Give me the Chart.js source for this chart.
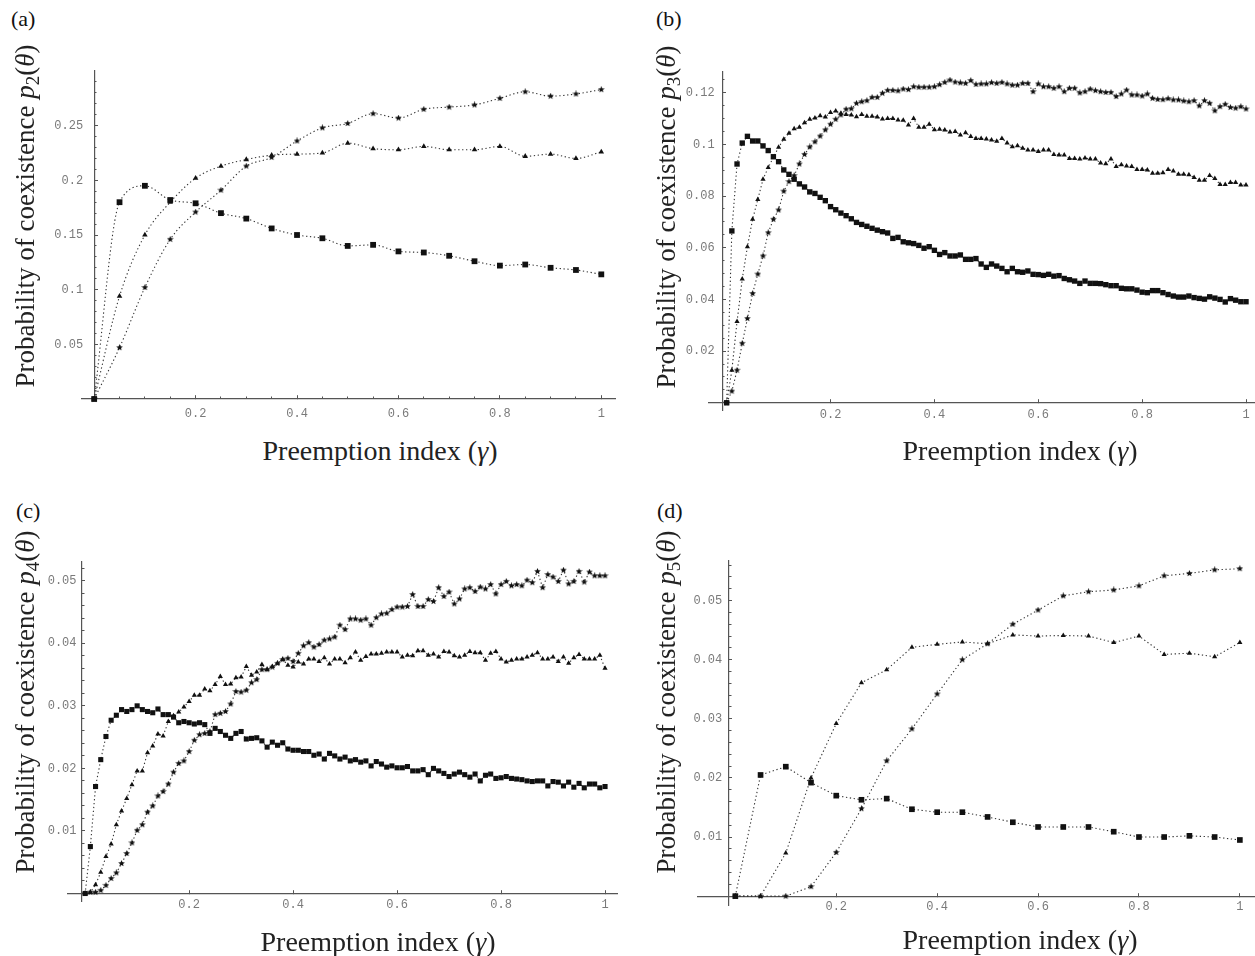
<!DOCTYPE html>
<html>
<head>
<meta charset="utf-8">
<script src="https://cdn.jsdelivr.net/npm/chart.js@4.4.0/dist/chart.umd.min.js"></script>
<style>
  html, body { margin: 0; padding: 0; background: #fff; }
  #page { position: relative; width: 1255px; height: 956px; overflow: hidden; background: #fff; }
  #page canvas { position: absolute; }
  .tag { position: absolute; font-family: 'Liberation Serif', serif; font-size: 22px; line-height: 1; color: #111; }
  .xt, .yt { position: absolute; font-family: 'Liberation Serif', serif; line-height: 1;
             white-space: nowrap; color: #222; }
  .xt { font-size: 28px; transform: translate(-50%, -50%); }
  .yt { font-size: 27px; transform: translate(-50%, -50%) rotate(-90deg); }
  .sb { font-size: 0.7em; position: relative; top: 0.28em; }
</style>
</head>
<body>
<div id="page">
  <canvas id="chartA"></canvas>
  <canvas id="chartB"></canvas>
  <canvas id="chartC"></canvas>
  <canvas id="chartD"></canvas>

  <div class="tag" style="left:11px;top:8px;">(a)</div>
  <div class="tag" style="left:656px;top:8px;">(b)</div>
  <div class="tag" style="left:16px;top:500px;">(c)</div>
  <div class="tag" style="left:657px;top:500px;">(d)</div>

  <div class="yt" style="left:25px;top:216px;">Probability of coexistence <i>p</i><span class="sb">2</span>(<i>θ</i>)</div>
  <div class="yt" style="left:666px;top:217px;">Probability of coexistence <i>p</i><span class="sb">3</span>(<i>θ</i>)</div>
  <div class="yt" style="left:25px;top:702px;">Probability of coexistence <i>p</i><span class="sb">4</span>(<i>θ</i>)</div>
  <div class="yt" style="left:666px;top:702px;">Probability of coexistence <i>p</i><span class="sb">5</span>(<i>θ</i>)</div>

  <div class="xt" style="left:380px;top:451px;">Preemption index (<i>γ</i>)</div>
  <div class="xt" style="left:1020px;top:451px;">Preemption index (<i>γ</i>)</div>
  <div class="xt" style="left:378px;top:942px;">Preemption index (<i>γ</i>)</div>
  <div class="xt" style="left:1020px;top:940px;">Preemption index (<i>γ</i>)</div>
</div>
<script>
// preemption index values
var gammaCoarse = [0, 0.05, 0.1, 0.15, 0.2, 0.25, 0.3, 0.35, 0.4, 0.45, 0.5,
    0.55, 0.6, 0.65, 0.7, 0.75, 0.8, 0.85, 0.9, 0.95, 1];
var gammaFine = [0, 0.01, 0.02, 0.03, 0.04, 0.05, 0.06, 0.07, 0.08, 0.09,
    0.1, 0.11, 0.12, 0.13, 0.14, 0.15, 0.16, 0.17, 0.18, 0.19,
    0.2, 0.21, 0.22, 0.23, 0.24, 0.25, 0.26, 0.27, 0.28, 0.29,
    0.3, 0.31, 0.32, 0.33, 0.34, 0.35, 0.36, 0.37, 0.38, 0.39,
    0.4, 0.41, 0.42, 0.43, 0.44, 0.45, 0.46, 0.47, 0.48, 0.49,
    0.5, 0.51, 0.52, 0.53, 0.54, 0.55, 0.56, 0.57, 0.58, 0.59,
    0.6, 0.61, 0.62, 0.63, 0.64, 0.65, 0.66, 0.67, 0.68, 0.69,
    0.7, 0.71, 0.72, 0.73, 0.74, 0.75, 0.76, 0.77, 0.78, 0.79,
    0.8, 0.81, 0.82, 0.83, 0.84, 0.85, 0.86, 0.87, 0.88, 0.89,
    0.9, 0.91, 0.92, 0.93, 0.94, 0.95, 0.96, 0.97, 0.98, 0.99, 1];

// (a) p2
var squaresA = [0, 0.180, 0.195, 0.182, 0.179, 0.170, 0.165, 0.156, 0.150, 0.147, 0.140,
    0.141, 0.135, 0.134, 0.131, 0.126, 0.122, 0.123, 0.120, 0.118, 0.114];
var trianglesA = [0, 0.094, 0.150, 0.180, 0.202, 0.213, 0.219, 0.223, 0.224, 0.225, 0.234,
    0.229, 0.228, 0.231, 0.228, 0.228, 0.231, 0.222, 0.224, 0.220, 0.226];
var starsA = [0, 0.047, 0.102, 0.146, 0.171, 0.191, 0.213, 0.221, 0.236, 0.248, 0.252,
    0.261, 0.257, 0.265, 0.267, 0.269, 0.275, 0.281, 0.277, 0.279, 0.283];

// (b) p3
var squaresB = [0, 0.0665, 0.0924, 0.1005, 0.1031, 0.1013, 0.1013, 0.0994, 0.0976, 0.0952,
    0.0933, 0.0901, 0.0884, 0.0865, 0.0847, 0.0835, 0.0816, 0.0810, 0.0795, 0.0782,
    0.0759, 0.0747, 0.0734, 0.0724, 0.0712, 0.0698, 0.0690, 0.0683, 0.0675, 0.0668,
    0.0662, 0.0657, 0.0636, 0.0640, 0.0623, 0.0619, 0.0616, 0.0609, 0.0598, 0.0604,
    0.0590, 0.0574, 0.0581, 0.0568, 0.0568, 0.0572, 0.0555, 0.0555, 0.0558, 0.0537,
    0.0524, 0.0537, 0.0529, 0.0520, 0.0507, 0.0520, 0.0507, 0.0505, 0.0510, 0.0497,
    0.0496, 0.0493, 0.0497, 0.0490, 0.0492, 0.0481, 0.0476, 0.0471, 0.0462, 0.0471,
    0.0462, 0.0462, 0.0461, 0.0457, 0.0453, 0.0453, 0.0443, 0.0441, 0.0441, 0.0436,
    0.0428, 0.0426, 0.0434, 0.0434, 0.0426, 0.0419, 0.0413, 0.0409, 0.0409, 0.0413,
    0.0407, 0.0404, 0.0401, 0.0410, 0.0405, 0.0400, 0.0390, 0.0403, 0.0397, 0.0391, 0.0391];
var trianglesB = [0, 0.0126, 0.0314, 0.0479, 0.0604, 0.0710, 0.0787, 0.0865, 0.0910, 0.0950,
    0.0989, 0.1020, 0.1043, 0.1060, 0.1066, 0.1084, 0.1097, 0.1102, 0.1111, 0.1106,
    0.1123, 0.1129, 0.1120, 0.1116, 0.1114, 0.1107, 0.1116, 0.1109, 0.1109, 0.1106,
    0.1098, 0.1100, 0.1100, 0.1094, 0.1093, 0.1075, 0.1100, 0.1066, 0.1066, 0.1078,
    0.1057, 0.1058, 0.1056, 0.1048, 0.1050, 0.1036, 0.1045, 0.1030, 0.1023, 0.1023,
    0.1021, 0.1017, 0.1012, 0.1023, 0.1005, 0.0991, 0.0995, 0.0985, 0.0978, 0.0978,
    0.0972, 0.0978, 0.0978, 0.0961, 0.0959, 0.0959, 0.0945, 0.0945, 0.0943, 0.0947,
    0.0943, 0.0943, 0.0928, 0.0925, 0.0943, 0.0914, 0.0921, 0.0916, 0.0914, 0.0903,
    0.0903, 0.0901, 0.0888, 0.0888, 0.0890, 0.0903, 0.0897, 0.0884, 0.0884, 0.0882,
    0.0872, 0.0861, 0.0861, 0.0879, 0.0868, 0.0845, 0.0845, 0.0852, 0.0852, 0.0843, 0.0843];
var starsB = [0, 0.0045, 0.0126, 0.0230, 0.0326, 0.0423, 0.0498, 0.0568, 0.0658, 0.0710,
    0.0746, 0.0819, 0.0856, 0.0879, 0.0924, 0.0961, 0.0990, 0.1010, 0.1032, 0.1056,
    0.1078, 0.1097, 0.1114, 0.1136, 0.1138, 0.1159, 0.1165, 0.1169, 0.1182, 0.1182,
    0.1198, 0.1209, 0.1209, 0.1207, 0.1214, 0.1212, 0.1223, 0.1221, 0.1221, 0.1221,
    0.1223, 0.1231, 0.1240, 0.1249, 0.1241, 0.1238, 0.1236, 0.1247, 0.1232, 0.1234,
    0.1234, 0.1239, 0.1236, 0.1240, 0.1234, 0.1229, 0.1229, 0.1236, 0.1236, 0.1204,
    0.1234, 0.1223, 0.1223, 0.1217, 0.1223, 0.1204, 0.1217, 0.1217, 0.1199, 0.1204,
    0.1214, 0.1208, 0.1204, 0.1201, 0.1201, 0.1185, 0.1195, 0.1210, 0.1191, 0.1191,
    0.1187, 0.1195, 0.1178, 0.1174, 0.1173, 0.1177, 0.1172, 0.1172, 0.1168, 0.1165,
    0.1169, 0.1149, 0.1169, 0.1159, 0.1130, 0.1146, 0.1155, 0.1143, 0.1140, 0.1146, 0.1137];

// (c) p4
var squaresC = [0, 0.0075, 0.0171, 0.0214, 0.0251, 0.0277, 0.0285, 0.0294, 0.0291, 0.0294,
    0.0300, 0.0294, 0.0291, 0.0289, 0.0295, 0.0286, 0.0286, 0.0282, 0.0273, 0.0275,
    0.0273, 0.0271, 0.0273, 0.0270, 0.0256, 0.0264, 0.0259, 0.0253, 0.0248, 0.0256,
    0.0259, 0.0247, 0.0248, 0.0249, 0.0244, 0.0234, 0.0242, 0.0237, 0.0241, 0.0231,
    0.0229, 0.0229, 0.0227, 0.0227, 0.0221, 0.0223, 0.0215, 0.0224, 0.0220, 0.0215,
    0.0218, 0.0212, 0.0214, 0.0210, 0.0212, 0.0204, 0.0211, 0.0207, 0.0202, 0.0204,
    0.0201, 0.0201, 0.0203, 0.0196, 0.0196, 0.0198, 0.0190, 0.0200, 0.0196, 0.0192,
    0.0187, 0.0191, 0.0194, 0.0190, 0.0186, 0.0191, 0.0180, 0.0189, 0.0191, 0.0184,
    0.0185, 0.0187, 0.0184, 0.0183, 0.0182, 0.0180, 0.0179, 0.0180, 0.0180, 0.0172,
    0.0179, 0.0178, 0.0172, 0.0178, 0.0170, 0.0176, 0.0169, 0.0175, 0.0175, 0.0169, 0.0171];
var trianglesC = [0, 0.0002, 0.0014, 0.0034, 0.0059, 0.0079, 0.0110, 0.0132, 0.0152, 0.0174,
    0.0196, 0.0196, 0.0225, 0.0236, 0.0255, 0.0252, 0.0275, 0.0284, 0.0290, 0.0298,
    0.0307, 0.0317, 0.0317, 0.0327, 0.0324, 0.0334, 0.0347, 0.0334, 0.0335, 0.0345,
    0.0346, 0.0363, 0.0349, 0.0354, 0.0366, 0.0358, 0.0363, 0.0368, 0.0374, 0.0365,
    0.0362, 0.0370, 0.0367, 0.0375, 0.0375, 0.0371, 0.0377, 0.0367, 0.0375, 0.0375,
    0.0369, 0.0377, 0.0386, 0.0373, 0.0379, 0.0383, 0.0383, 0.0384, 0.0386, 0.0386,
    0.0386, 0.0378, 0.0381, 0.0380, 0.0388, 0.0388, 0.0381, 0.0383, 0.0378, 0.0387,
    0.0386, 0.0380, 0.0378, 0.0381, 0.0387, 0.0385, 0.0385, 0.0373, 0.0384, 0.0387,
    0.0375, 0.0370, 0.0373, 0.0375, 0.0375, 0.0378, 0.0381, 0.0385, 0.0375, 0.0375,
    0.0378, 0.0371, 0.0378, 0.0368, 0.0377, 0.0382, 0.0375, 0.0375, 0.0375, 0.0381, 0.0360];
var starsC = [0, 0.0002, 0.0002, 0.0005, 0.0013, 0.0024, 0.0033, 0.0048, 0.0064, 0.0081,
    0.0101, 0.0110, 0.0130, 0.0140, 0.0156, 0.0163, 0.0175, 0.0194, 0.0208, 0.0212,
    0.0227, 0.0245, 0.0254, 0.0256, 0.0259, 0.0286, 0.0288, 0.0291, 0.0303, 0.0323,
    0.0322, 0.0325, 0.0337, 0.0342, 0.0358, 0.0358, 0.0362, 0.0368, 0.0374, 0.0376,
    0.0371, 0.0384, 0.0396, 0.0401, 0.0394, 0.0398, 0.0405, 0.0407, 0.0410, 0.0429,
    0.0422, 0.0439, 0.0439, 0.0437, 0.0439, 0.0429, 0.0441, 0.0447, 0.0448, 0.0454,
    0.0458, 0.0458, 0.0459, 0.0478, 0.0459, 0.0459, 0.0470, 0.0467, 0.0489, 0.0475,
    0.0482, 0.0463, 0.0471, 0.0487, 0.0489, 0.0483, 0.0490, 0.0487, 0.0494, 0.0479,
    0.0494, 0.0499, 0.0492, 0.0494, 0.0492, 0.0501, 0.0497, 0.0515, 0.0489, 0.0510,
    0.0506, 0.0499, 0.0517, 0.0495, 0.0499, 0.0515, 0.0498, 0.0514, 0.0508, 0.0508, 0.0508];

// (d) p5
var squaresD = [0, 0.0205, 0.0219, 0.0192, 0.0170, 0.0163, 0.0165, 0.0147, 0.0142, 0.0142, 0.0134,
    0.0125, 0.0117, 0.0117, 0.0117, 0.0109, 0.0100, 0.0100, 0.0102, 0.0100, 0.0095];
var trianglesD = [0, 0, 0.0073, 0.0200, 0.0292, 0.0361, 0.0383, 0.0421, 0.0426, 0.0430, 0.0427,
    0.0442, 0.0440, 0.0441, 0.0440, 0.0429, 0.0440, 0.0409, 0.0411, 0.0405, 0.0429];
var starsD = [0, 0, 0, 0.0016, 0.0074, 0.0148, 0.0229, 0.0283, 0.0342, 0.0400, 0.0427,
    0.0460, 0.0484, 0.0508, 0.0515, 0.0518, 0.0525, 0.0542, 0.0546, 0.0552, 0.0554];

// tick labels
var xTickValues = [0.2, 0.4, 0.6, 0.8, 1];
var xTickLabels = ['0.2', '0.4', '0.6', '0.8', '1'];
var yTickValuesA = [0.05, 0.1, 0.15, 0.2, 0.25];
var yTickLabelsA = ['0.05', '0.1', '0.15', '0.2', '0.25'];
var yTickValuesB = [0.02, 0.04, 0.06, 0.08, 0.1, 0.12];
var yTickLabelsB = ['0.02', '0.04', '0.06', '0.08', '0.1', '0.12'];
var yTickValuesCD = [0.01, 0.02, 0.03, 0.04, 0.05];
var yTickLabelsCD = ['0.01', '0.02', '0.03', '0.04', '0.05'];

var AXIS = '#555';
var LABEL_GREY = '#7a7a7a';
var PAD = {left: 60, right: 14, top: 14, bottom: 30};

function steps(step, last) {
    var out = [];
    for (var i = 1; i * step <= last + 1e-9; i++) out.push(+(i * step).toFixed(4));
    return out;
}

function makeStar(size) {
    var c = document.createElement('canvas');
    c.width = size;
    c.height = size;
    var g = c.getContext('2d');
    var r = size / 2, ri = r * 0.45;
    g.beginPath();
    for (var i = 0; i < 10; i++) {
        var rad = i % 2 ? ri : r;
        var ang = -Math.PI / 2 + i * Math.PI / 5;
        g.lineTo(r + rad * Math.cos(ang), r + rad * Math.sin(ang));
    }
    g.closePath();
    g.fillStyle = '#111';
    g.fill();
    return c;
}

function pairs(xs, ys) {
    return xs.map(function (x, i) { return {x: x, y: ys[i]}; });
}

function tickScale(axis, min, max, pos, values, len, labels, drawBorder, pad) {
    return {
        axis: axis,
        type: 'linear',
        min: min,
        max: max,
        position: pos,
        border: {display: drawBorder, color: AXIS, width: 1.2},
        grid: {display: len !== null, drawOnChartArea: false, drawTicks: true,
               tickLength: len || 0, color: AXIS, lineWidth: 1},
        ticks: {
            autoSkip: false, maxRotation: 0, minRotation: 0, padding: pad || 0,
            color: LABEL_GREY,
            font: {family: "'Liberation Mono', monospace", size: 12},
            callback: function (v, i) { return labels ? labels[i] : ''; }
        },
        afterBuildTicks: function (s) {
            s.ticks = values.map(function (v) { return {value: v}; });
        }
    };
}

function drawPanel(id, p) {
    var canvas = document.getElementById(id);
    canvas.width = p.width + PAD.left + PAD.right;
    canvas.height = p.height + PAD.top + PAD.bottom;
    canvas.style.left = (p.left - PAD.left) + 'px';
    canvas.style.top = (p.top - PAD.top) + 'px';

    var line = {
        borderColor: '#333', borderWidth: 1.1, borderDash: [1.3, 2.6],
        pointBorderWidth: 0, pointBackgroundColor: '#111', clip: false,
        tension: p.smooth ? 0.4 : 0, cubicInterpolationMode: p.smooth ? 'monotone' : 'default'
    };
    var datasets = [
        Object.assign({label: 'squares', data: pairs(p.gamma, p.squares),
                       pointStyle: 'rect', pointRadius: p.rectR}, line),
        Object.assign({label: 'triangles', data: pairs(p.gamma, p.triangles),
                       pointStyle: 'triangle', pointRadius: p.triR}, line),
        Object.assign({label: 'stars', data: pairs(p.gamma, p.stars),
                       pointStyle: makeStar(p.starSize), pointRadius: 3}, line)
    ];

    new Chart(canvas.getContext('2d'), {
        type: 'line',
        data: {datasets: datasets},
        options: {
            responsive: false,
            animation: false,
            events: [],
            layout: {padding: PAD},
            plugins: {legend: {display: false}, tooltip: {enabled: false}},
            scales: {
                x: tickScale('x', p.xMin, p.xMax, {y: 0}, xTickValues, -4, xTickLabels, true, p.xLabelPad),
                xMinor: tickScale('x', p.xMin, p.xMax, {y: 0}, p.xMinor, p.xMinor.length ? -2.5 : null, null, false),
                y: tickScale('y', p.yMin, p.yMax, {x: p.yAxisAt}, p.yValues, -4, null, true),
                yMinor: tickScale('y', p.yMin, p.yMax, {x: p.yAxisAt}, p.yMinor, -2.5, null, false),
                yLab: tickScale('y', p.yMin, p.yMax, {x: p.yLabelAt}, p.yValues, null, p.yLabels, false)
            }
        }
    });
}

drawPanel('chartA', {
    left: 82, top: 71, width: 533, height: 328,
    xMin: -0.024, xMax: 1.027, yMin: 0, yMax: 0.30, yAxisAt: 0, yLabelAt: -0.0217, xLabelPad: 11.8,
    gamma: gammaCoarse, squares: squaresA, triangles: trianglesA, stars: starsA, smooth: true,
    yValues: yTickValuesA, yLabels: yTickLabelsA, yMinor: steps(0.01, 0.29), xMinor: steps(0.05, 1),
    rectR: 4.1, triR: 3.2, starSize: 7
});
drawPanel('chartB', {
    left: 709, top: 72, width: 550, height: 338,
    xMin: -0.034, xMax: 1.025, yMin: -0.0028, yMax: 0.128, yAxisAt: -0.0083, yLabelAt: -0.0231, xLabelPad: 8.5,
    gamma: gammaFine, squares: squaresB, triangles: trianglesB, stars: starsB, smooth: false,
    yValues: yTickValuesB, yLabels: yTickLabelsB, yMinor: steps(0.005, 0.125), xMinor: [],
    rectR: 3.8, triR: 3, starSize: 7
});
drawPanel('chartC', {
    left: 68, top: 562, width: 549, height: 339,
    xMin: -0.033, xMax: 1.023, yMin: -0.0012, yMax: 0.053, yAxisAt: -0.0069, yLabelAt: -0.0166, xLabelPad: 7.8,
    gamma: gammaFine, squares: squaresC, triangles: trianglesC, stars: starsC, smooth: false,
    yValues: yTickValuesCD, yLabels: yTickLabelsCD, yMinor: steps(0.002, 0.052), xMinor: [],
    rectR: 3.6, triR: 3, starSize: 7
});
drawPanel('chartD', {
    left: 698, top: 561, width: 557, height: 344,
    xMin: -0.074, xMax: 1.03, yMin: -0.0015, yMax: 0.0567, yAxisAt: -0.0127, yLabelAt: -0.026, xLabelPad: 7.5,
    gamma: gammaCoarse, squares: squaresD, triangles: trianglesD, stars: starsD, smooth: false,
    yValues: yTickValuesCD, yLabels: yTickLabelsCD, yMinor: steps(0.002, 0.056), xMinor: [],
    rectR: 4.0, triR: 3, starSize: 7
});
</script>
</body>
</html>
